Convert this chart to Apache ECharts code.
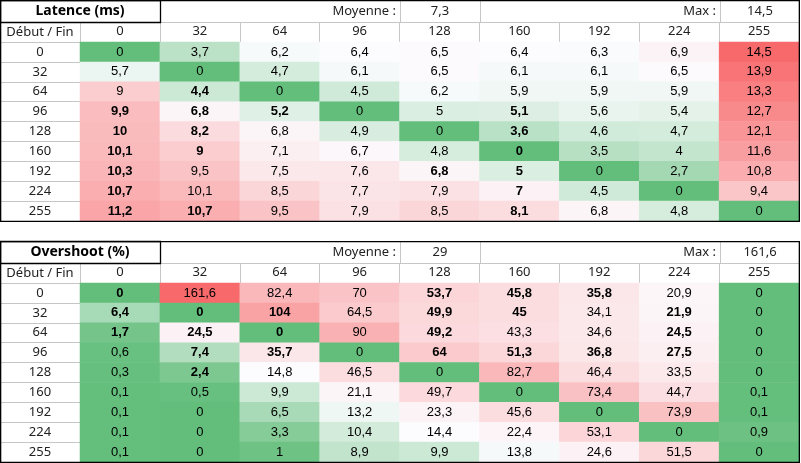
<!DOCTYPE html>
<html>
<head>
<meta charset="utf-8">
<script src="https://cdn.jsdelivr.net/npm/echarts@6/dist/echarts.min.js"></script>
<style>html,body{margin:0;padding:0;background:#fff;}#c{width:801px;height:463px;}</style>
</head>
<body>
<div id="c"></div>
<script>
const colLabels = ['0','32','64','96','128','160','192','224','255'];
const rowLabels = ['0','32','64','96','128','160','192','224','255'];
const cornerLabel = 'Début / Fin';

const latencyTitle = 'Latence (ms)';
const latency = [
  [0, 3.7, 6.2, 6.4, 6.5, 6.4, 6.3, 6.9, 14.5],
  [5.7, 0, 4.7, 6.1, 6.5, 6.1, 6.1, 6.5, 13.9],
  [9, 4.4, 0, 4.5, 6.2, 5.9, 5.9, 5.9, 13.3],
  [9.9, 6.8, 5.2, 0, 5, 5.1, 5.6, 5.4, 12.7],
  [10, 8.2, 6.8, 4.9, 0, 3.6, 4.6, 4.7, 12.1],
  [10.1, 9, 7.1, 6.7, 4.8, 0, 3.5, 4, 11.6],
  [10.3, 9.5, 7.5, 7.6, 6.8, 5, 0, 2.7, 10.8],
  [10.7, 10.1, 8.5, 7.7, 7.9, 7, 4.5, 0, 9.4],
  [11.2, 10.7, 9.5, 7.9, 8.5, 8.1, 6.8, 4.8, 0]
];
const latencyMean = 7.3;
const latencyMax = 14.5;

const overshootTitle = 'Overshoot (%)';
const overshoot = [
  [0, 161.6, 82.4, 70, 53.7, 45.8, 35.8, 20.9, 0],
  [6.4, 0, 104, 64.5, 49.9, 45, 34.1, 21.9, 0],
  [1.7, 24.5, 0, 90, 49.2, 43.3, 34.6, 24.5, 0],
  [0.6, 7.4, 35.7, 0, 64, 51.3, 36.8, 27.5, 0],
  [0.3, 2.4, 14.8, 46.5, 0, 82.7, 46.4, 33.5, 0],
  [0.1, 0.5, 9.9, 21.1, 49.7, 0, 73.4, 44.7, 0.1],
  [0.1, 0, 6.5, 13.2, 23.3, 45.6, 0, 73.9, 0.1],
  [0.1, 0, 3.3, 10.4, 14.4, 22.4, 53.1, 0, 0.9],
  [0.1, 0, 1, 8.9, 9.9, 13.8, 24.6, 51.5, 0]
];
const overshootMean = 29;
const overshootMax = 161.6;

const meanLabel = 'Moyenne :';
const maxLabel = 'Max :';

// cells rendered in bold in the reference [row, col]
const latencyBold = [[2,1],[3,0],[3,1],[3,2],[3,5],[4,0],[4,1],[4,5],[5,0],[5,1],[5,5],[6,0],[6,4],[6,5],[7,0],[7,5],[8,0],[8,1],[8,5]];
const overshootBold = [[0,0],[0,4],[0,5],[0,6],[1,0],[1,1],[1,2],[1,4],[1,5],[1,7],[2,0],[2,1],[2,2],[2,4],[2,7],[3,1],[3,2],[3,4],[3,5],[3,6],[3,7],[4,1]];

const fmt = v => String(v).replace('.', ',');
const HDR_FONT = '"Noto Sans", "Open Sans", sans-serif';
const NUM_FONT = '"Liberation Sans", Arial, sans-serif';
const GRAY = '#c6c6c6';

function buildData(values, bold) {
  const flat = values.flat().slice().sort((a, b) => a - b);
  const min = flat[0], max = flat[flat.length - 1];
  const med = flat[Math.floor(flat.length / 2)];
  const boldSet = new Set(bold.map(b => b[0] + '_' + b[1]));
  const data = [];
  values.forEach((row, r) => {
    row.forEach((v, c) => {
      const t = v <= med ? 0.5 * (v - min) / ((med - min) || 1)
                         : 0.5 + 0.5 * (v - med) / ((max - med) || 1);
      const item = { value: [c, r, v, t] };
      if (boldSet.has(r + '_' + c)) item.label = { fontWeight: 'bold' };
      data.push(item);
    });
  });
  return data;
}

const tables = [
  { title: latencyTitle, values: latency, bold: latencyBold, mean: latencyMean, max: latencyMax, oy: 0 },
  { title: overshootTitle, values: overshoot, bold: overshootBold, mean: overshootMean, max: overshootMax, oy: 241 }
];

const grids = [], xAxes = [], yAxes = [], series = [], visualMaps = [], graphics = [];
tables.forEach((tb, i) => {
  const oy = tb.oy;
  grids.push({ left: 80, top: oy + 42, width: 719, height: 179 });
  xAxes.push({
    gridIndex: i, type: 'category', data: colLabels, position: 'top',
    axisLine: { show: true, lineStyle: { color: GRAY, width: 1 } },
    axisTick: { show: true, length: 20, lineStyle: { color: GRAY } },
    axisLabel: { margin: 4, fontFamily: HDR_FONT, fontSize: 13, color: '#222' },
    splitLine: { show: false }
  });
  yAxes.push({
    gridIndex: i, type: 'category', data: rowLabels, inverse: true,
    axisLine: { show: true, lineStyle: { color: GRAY } },
    axisTick: { show: true, length: 80, lineStyle: { color: GRAY } },
    axisLabel: { margin: 40, align: 'center', fontFamily: HDR_FONT, fontSize: 13, color: '#222' },
    splitLine: { show: false }
  });
  series.push({
    type: 'heatmap', xAxisIndex: i, yAxisIndex: i,
    data: buildData(tb.values, tb.bold),
    label: {
      show: true, fontFamily: NUM_FONT, fontSize: 13, color: '#000',
      formatter: p => fmt(p.value[2])
    },
    itemStyle: { borderWidth: 0 },
    emphasis: { disabled: true }
  });
  visualMaps.push({
    show: false, seriesIndex: i, dimension: 3, min: 0, max: 1,
    inRange: { color: ['#63BE7B', '#FCFCFF', '#F8696B'] }
  });
  // header row lines
  graphics.push({ type: 'line', z: 50, shape: { x1: 160, y1: oy + 22.5, x2: 800, y2: oy + 22.5 }, style: { stroke: GRAY, lineWidth: 1 } });
  [400, 480, 720].forEach(x => graphics.push({ type: 'line', z: 50, shape: { x1: x + 0.5, y1: oy, x2: x + 0.5, y2: oy + 22 }, style: { stroke: GRAY, lineWidth: 1 } }));
  // title box
  graphics.push({ type: 'rect', z: 60, shape: { x: 0.5, y: oy + 0.5, width: 160, height: 22 }, style: { fill: null, stroke: '#000', lineWidth: 1.3 } });
  graphics.push({ type: 'text', z: 60, x: 80, y: oy + 11.5, style: { text: tb.title, fontFamily: HDR_FONT, fontSize: 14, fontWeight: 'bold', fill: '#000', align: 'center', verticalAlign: 'middle' } });
  graphics.push({ type: 'text', z: 60, x: 396, y: oy + 11.5, style: { text: meanLabel, fontFamily: HDR_FONT, fontSize: 13, fill: '#222', align: 'right', verticalAlign: 'middle' } });
  graphics.push({ type: 'text', z: 60, x: 440, y: oy + 11.5, style: { text: fmt(tb.mean), fontFamily: HDR_FONT, fontSize: 13, fill: '#222', align: 'center', verticalAlign: 'middle' } });
  graphics.push({ type: 'text', z: 60, x: 716, y: oy + 11.5, style: { text: maxLabel, fontFamily: HDR_FONT, fontSize: 13, fill: '#222', align: 'right', verticalAlign: 'middle' } });
  graphics.push({ type: 'text', z: 60, x: 760, y: oy + 11.5, style: { text: fmt(tb.max), fontFamily: HDR_FONT, fontSize: 13, fill: '#222', align: 'center', verticalAlign: 'middle' } });
  graphics.push({ type: 'text', z: 60, x: 40, y: oy + 32.5, style: { text: cornerLabel, fontFamily: HDR_FONT, fontSize: 13, fill: '#222', align: 'center', verticalAlign: 'middle' } });
  // outer border as filled strips, on a layer above the cells
  const edges = [
    [0, oy, 800, 1.3],
    [0, oy + 220.7, 800, 1.3],
    [0, oy, 1.3, 222],
    [798.7, oy, 1.3, 222]
  ];
  edges.forEach(e => graphics.push({ type: 'rect', zlevel: 1, z: 70, shape: { x: e[0], y: e[1], width: e[2], height: e[3] }, style: { fill: '#000' } }));
});

const chart = echarts.init(document.getElementById('c'), null, { renderer: 'canvas' });
chart.setOption({
  animation: false,
  backgroundColor: '#fff',
  grid: grids, xAxis: xAxes, yAxis: yAxes,
  visualMap: visualMaps, series: series, graphic: graphics
});
</script>
</body>
</html>
